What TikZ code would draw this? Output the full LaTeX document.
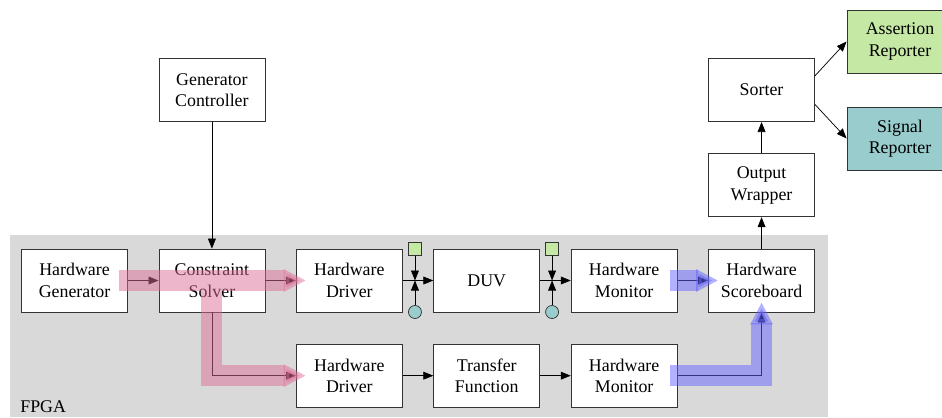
\documentclass[tikz,border=0pt]{standalone}
\usepackage{fontspec}
\setmainfont{Liberation Serif}
\usetikzlibrary{arrows.meta, positioning, calc}
\definecolor{assertgreen}{RGB}{197,232,165}
\definecolor{signalteal}{RGB}{153,204,204}
\definecolor{flowpink}{RGB}{222,110,150}
\definecolor{flowblue}{RGB}{100,100,255}
\tikzset{
  blk/.style={draw=black!80, fill=white, minimum width=59.4pt, minimum height=35.3pt,
    align=center, inner sep=1pt, font=\fontsize{10}{12}\selectfont},
  rep/.style={blk, fill=#1},
  arr/.style={-{Triangle[length=5.6pt, width=4.4pt]}, black},
  probe/.style={draw=black!80, fill=#1, minimum size=7.3pt, inner sep=0pt},
  tap/.style={circle, draw=black!80, fill=#1, minimum size=7.3pt, inner sep=0pt},
  flow/.style={draw=#1, opacity=0.5, line width=11.76pt, line join=miter,
    -{Triangle[length=12.3pt, width=11.76pt]}},
}

\begin{document}
\begin{tikzpicture}[x=0.56pt, y=-0.56pt, node distance=17.15pt]
  \useasboundingbox (0,0) rectangle (942,417);
  \fill[black!15] (10,235) rectangle (828,417);
  \node[anchor=base west, inner sep=0pt] (fpga) at (20,412) {FPGA};

  % top row
  \node[blk] (gen) at (74.5,280.5) {Hardware\\Generator};
  \node[blk, right=of gen] (solver) {Constraint\\Solver};
  \node[blk, right=of solver] (drvA) {Hardware\\Driver};
  \node[blk, right=of drvA] (duv) {DUV};
  \node[blk, right=of duv] (monA) {Hardware\\Monitor};
  \node[blk, right=of monA] (score) {Hardware\\Scoreboard};
  % bottom row
  \node[blk, below=17.6pt of drvA] (drvB) {Hardware\\Driver};
  \node[blk, right=of drvB] (tf) {Transfer\\Function};
  \node[blk, right=of tf] (monB) {Hardware\\Monitor};
  % outside the FPGA
  \node[blk, above=71pt of solver] (ctrl) {Generator\\Controller};
  \node[blk, above=17.6pt of score] (wrap) {Output\\Wrapper};
  \node[blk, above=17.6pt of wrap] (sorter) {Sorter};
  \node[rep=assertgreen] (assert) at (900,41.5) {Assertion\\Reporter};
  \node[rep=signalteal] (signal) at (900,138.5) {Signal\\Reporter};

  % probes on the DUV ports
  \coordinate (jA) at ($(drvA.east)!0.4!(duv.west)$);
  \coordinate (jB) at ($(duv.east)!0.39!(monA.west)$);
  \node[probe=assertgreen] (sqA) at ($(jA)+(0,-31.5)$) {};
  \node[tap=signalteal] (tapA) at ($(jA)+(0,31.5)$) {};
  \node[probe=assertgreen] (sqB) at ($(jB)+(0,-31.5)$) {};
  \node[tap=signalteal] (tapB) at ($(jB)+(0,31.5)$) {};

  \draw[arr] (gen) -- (solver);
  \draw[arr] (solver) -- (drvA);
  \draw[arr] (drvA) -- (duv);
  \draw[arr] (duv) -- (monA);
  \draw[arr] (monA) -- (score);
  \draw[arr] (sqA) -- (jA);
  \draw[arr] (tapA) -- (jA);
  \draw[arr] (sqB) -- (jB);
  \draw[arr] (tapB) -- (jB);
  \draw[arr] (ctrl) -- (solver);
  \draw[arr] (score) -- (wrap);
  \draw[arr] (wrap) -- (sorter);
  \draw[arr] (sorter.15) -- (assert.west);
  \draw[arr] (sorter.-15) -- (signal.west);
  \draw[arr] (solver.south) |- (drvB.west);
  \draw[arr] (drvB) -- (tf);
  \draw[arr] (tf) -- (monB);
  \draw[arr] (monB.east) -| (score.south);

  % stimulus and response paths
  \draw[flow=flowpink] ($(gen.east)+(-9,0)$) -- ($(drvA.west)+(10,0)$);
  \draw[flow=flowpink] ($(solver.center)+(0,10.5)$) |- ($(drvB.west)+(10,0)$);
  \draw[flow=flowblue] ($(monA.east)+(-8,0)$) -- ($(score.west)+(10,0)$);
  \draw[flow=flowblue] ($(monB.east)+(-8,0)$) -| ($(score.south)+(0,-10)$);
\end{tikzpicture}
\end{document}
